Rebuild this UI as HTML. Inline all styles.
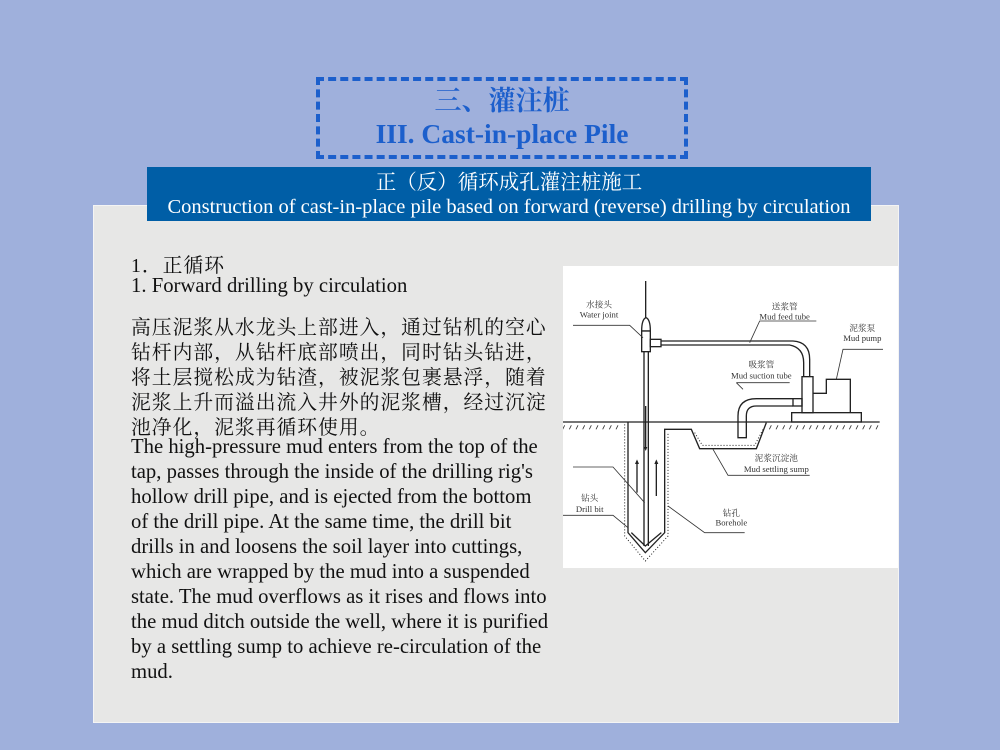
<!DOCTYPE html>
<html><head><meta charset="utf-8"><style>
body{margin:0;width:1000px;height:750px;background:#9fb0dc;position:relative;overflow:hidden;font-family:"Liberation Serif","Noto Serif CJK SC",serif;}
.panel{position:absolute;left:93px;top:205px;width:804px;height:516px;background:#e7e7e6;border:1px solid #f4f4f4;}
.dash{position:absolute;left:316px;top:77px;width:364px;height:74px;border:4px dashed #1c5fcc;}
.t1{position:absolute;left:316px;top:84px;width:372px;text-align:center;color:#1c5fcc;font-size:27px;font-weight:bold;line-height:34px;}
.t2{position:absolute;left:316px;top:117px;width:372px;text-align:center;color:#1c5fcc;font-size:27.5px;font-weight:bold;line-height:34px;}
.banner{position:absolute;left:147px;top:167px;width:724px;height:54px;background:#005ea6;color:#fff;text-align:center;font-size:20.5px;line-height:24px;padding-top:4px;box-sizing:border-box;white-space:nowrap;}
.l{position:absolute;left:131px;font-size:20.7px;color:#111;white-space:nowrap;}
.cn{font-size:19.8px;letter-spacing:1px;}
</style></head><body>
<div class="panel"></div>
<div class="dash"></div>
<div class="t1">三、灌注桩</div>
<div class="t2">III. Cast-in-place Pile</div>
<div class="banner">正（反）循环成孔灌注桩施工<br>Construction of cast-in-place pile based on forward (reverse) drilling by circulation</div>
<div class="l cn" style="top:249px">1．正循环</div>
<div class="l" style="top:275px">1. Forward drilling by circulation</div>
<div class="l cn" style="top:311px">高压泥浆从水龙头上部进入，通过钻机的空心</div>
<div class="l cn" style="top:336px">钻杆内部，从钻杆底部喷出，同时钻头钻进，</div>
<div class="l cn" style="top:361px">将土层搅松成为钻渣，被泥浆包裹悬浮，随着</div>
<div class="l cn" style="top:386px">泥浆上升而溢出流入井外的泥浆槽，经过沉淀</div>
<div class="l cn" style="top:411px">池净化，泥浆再循环使用。</div>
<div class="l" style="top:436px">The high-pressure mud enters from the top of the</div>
<div class="l" style="top:461px">tap, passes through the inside of the drilling rig's</div>
<div class="l" style="top:486px">hollow drill pipe, and is ejected from the bottom</div>
<div class="l" style="top:511px">of the drill pipe. At the same time, the drill bit</div>
<div class="l" style="top:536px">drills in and loosens the soil layer into cuttings,</div>
<div class="l" style="top:561px">which are wrapped by the mud into a suspended</div>
<div class="l" style="top:586px">state. The mud overflows as it rises and flows into</div>
<div class="l" style="top:611px">the mud ditch outside the well, where it is purified</div>
<div class="l" style="top:636px">by a settling sump to achieve re-circulation of the</div>
<div class="l" style="top:661px">mud.</div>
<svg style="position:absolute;left:563px;top:266px" width="335" height="302" viewBox="0 0 1005 906">
<rect width="1005" height="906" fill="#fff"/>
<g fill="none" stroke="#222" stroke-width="4">
<line x1="248" y1="45" x2="248" y2="160"/>
<path d="M236 195 Q236 160 249 155 Q262 160 262 195 Z" fill="#fff"/>
<rect x="236" y="195" width="26" height="62" fill="#fff"/>
<rect x="262" y="220" width="32" height="22" fill="#fff"/>
<line x1="243" y1="257" x2="243" y2="840"/><line x1="256" y1="257" x2="256" y2="840"/>
<path d="M294 225 H690 Q740 228 740 280 V332"/>
<path d="M294 237 H680 Q722 245 722 290 V332"/>
<rect x="717" y="332" width="33" height="108"/>
<path d="M750 382 H790 V340 H862 V440"/>
<rect x="686" y="440" width="209" height="28"/>
<rect x="690" y="398" width="27" height="22"/>
<path d="M690 398 H580 Q525 398 525 450 V515 H550 V450 Q550 420 580 420 H690"/>
<line x1="0" y1="468" x2="950" y2="468"/>
<path d="M195 468 V800 L247 860 L305 800 V490 H385 L410 548 H580 L610 470"/>
<path d="M205 800 L247 840 L295 800"/>
<path d="M222 680 V585 M280 690 V585"/>
<line x1="248" y1="420" x2="248" y2="550"/>
</g>
<g stroke="#222" stroke-width="3" fill="none" stroke-dasharray="3 6">
<path d="M185 475 V810 L247 885 L315 810 V500"/>
<path d="M395 500 L418 538 H575 L600 490"/>
</g>
<g stroke="#333" stroke-width="2.5">
<path d="M5 478 l-6 12 M25 478 l-6 12 M45 478 l-6 12 M65 478 l-6 12 M85 478 l-6 12 M105 478 l-6 12 M125 478 l-6 12 M145 478 l-6 12 M165 478 l-6 12 M625 478 l-6 12 M645 478 l-6 12 M665 478 l-6 12 M685 478 l-6 12 M705 478 l-6 12 M725 478 l-6 12 M745 478 l-6 12 M765 478 l-6 12 M785 478 l-6 12 M805 478 l-6 12 M825 478 l-6 12 M845 478 l-6 12 M865 478 l-6 12 M885 478 l-6 12 M905 478 l-6 12 M925 478 l-6 12 M945 478 l-6 12"/>
</g>
<g fill="#222"><path d="M222 580 l-6 14 h12z M280 580 l-6 14 h12z M248 555 l-5 -12 h10z"/></g>
<g stroke="#333" stroke-width="2.5" fill="none">
<path d="M30 178 H200 L240 215"/>
<path d="M560 230 L590 165 H760"/>
<path d="M820 340 L840 250 H960"/>
<path d="M540 370 L520 350 M520 350 H680"/>
<path d="M450 550 L495 628 H740"/>
<path d="M30 603 H150 L245 710"/>
<path d="M0 748 H150 L195 785"/>
<path d="M315 720 L425 800 H545"/>
</g>
<g font-family="Liberation Serif,Noto Serif CJK SC,serif" font-size="26" fill="#333" text-anchor="middle">
<text x="108" y="125">水接头</text><text x="108" y="155">Water joint</text>
<text x="665" y="130">送浆管</text><text x="665" y="160">Mud feed tube</text>
<text x="898" y="195">泥浆泵</text><text x="898" y="225">Mud pump</text>
<text x="595" y="305">吸浆管</text><text x="595" y="338">Mud suction tube</text>
<text x="640" y="585">泥浆沉淀池</text><text x="640" y="618">Mud settling sump</text>
<text x="80" y="705">钻头</text><text x="80" y="738">Drill bit</text>
<text x="505" y="750">钻孔</text><text x="505" y="778">Borehole</text>
</g>
</svg>
</body></html>
